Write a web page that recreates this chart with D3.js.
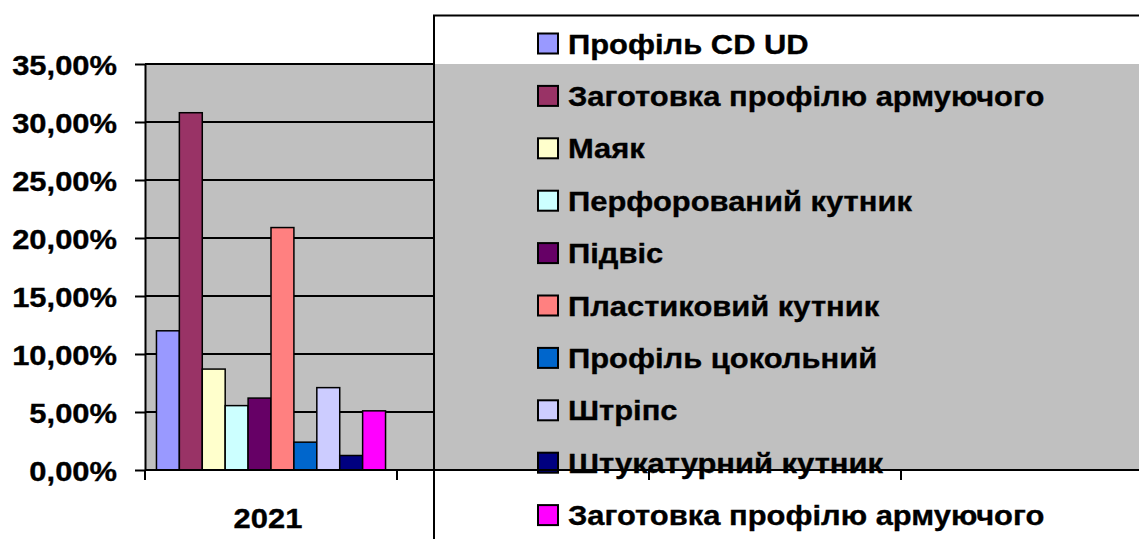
<!DOCTYPE html>
<html><head><meta charset="utf-8">
<script src="https://cdn.jsdelivr.net/npm/d3@7"></script>
<style>html,body{margin:0;padding:0;background:#fff;overflow:hidden}</style>
</head><body>
<svg id="c" width="1139" height="539"></svg>
<script>
const categories = ["2021"];
const seriesNames = [
  "Профіль CD UD",
  "Заготовка профілю армуючого",
  "Маяк",
  "Перфорований кутник",
  "Підвіс",
  "Пластиковий кутник",
  "Профіль цокольний",
  "Штріпс",
  "Штукатурний кутник",
  "Заготовка профілю армуючого"
];
const seriesValues = [0.120, 0.308, 0.087, 0.0555, 0.062, 0.209, 0.024, 0.071, 0.0125, 0.051];
const seriesColors = ["#9999FF","#993366","#FFFFCC","#CCFFFF","#660066","#FF8080","#0066CC","#CCCCFF","#000080","#FF00FF"];
const yTicks = [0, 0.05, 0.10, 0.15, 0.20, 0.25, 0.30, 0.35];

const svg = d3.select("#c");
const FONT = "'Liberation Sans', Arial, sans-serif";
const FS = 28.5, SX = 1.085;

const plot = {left:145, top:64, bottom:470, gridRight:434, grayRight:1139};
const y = d3.scaleLinear().domain([0, 0.35]).range([plot.bottom, plot.top]);
const x = d3.scaleBand().domain(categories).range([plot.left, 397]);
const xs = d3.scaleBand().domain(d3.range(seriesNames.length)).range([0, x.bandwidth()]).paddingInner(0).paddingOuter(0.5);

function styleText(sel) {
  return sel.attr("font-family", FONT).attr("font-weight", "bold").attr("font-size", FS)
    .attr("fill", "#000").attr("stroke", "#000").attr("stroke-width", 0.35);
}

// plot background
svg.append("rect").attr("x", plot.left).attr("y", plot.top)
  .attr("width", plot.grayRight - plot.left).attr("height", plot.bottom - plot.top)
  .attr("fill", "#C0C0C0");

// gridlines
svg.append("g").selectAll("line").data(yTicks).join("line")
  .attr("x1", plot.left).attr("x2", plot.gridRight)
  .attr("y1", d => Math.round(y(d))).attr("y2", d => Math.round(y(d)))
  .attr("stroke", "#000").attr("stroke-width", 2);

// bars
const cat = categories[0];
svg.append("g").selectAll("rect").data(seriesValues).join("rect")
  .attr("x", (d,i) => x(cat) + xs(i))
  .attr("width", xs.bandwidth())
  .attr("y", d => y(d))
  .attr("height", d => y(0) - y(d))
  .attr("fill", (d,i) => seriesColors[i])
  .attr("stroke", "#000").attr("stroke-width", 1.5);

// y axis
const fmt = d => d3.format(".2f")(d*100).replace(".", ",") + "%";
const yAxis = d3.axisLeft(y).tickValues(yTicks).tickSize(10).tickSizeOuter(0).tickFormat(fmt);
const gy = svg.append("g").attr("transform", `translate(${plot.left},0)`).call(yAxis);
gy.selectAll("path,line").attr("stroke", "#000").attr("stroke-width", 2);
gy.selectAll("text").remove();
styleText(gy.selectAll(".tick").append("text")
  .attr("text-anchor", "end")
  .attr("transform", `translate(-28,10) scale(${SX},1)`))
  .text(fmt);

// x axis line and ticks (band boundaries)
svg.append("line").attr("x1", plot.left).attr("x2", plot.grayRight)
  .attr("y1", plot.bottom).attr("y2", plot.bottom).attr("stroke", "#000").attr("stroke-width", 2);
svg.append("g").selectAll("line").data(d3.range(4)).join("line")
  .attr("x1", k => x(cat) + k * x.bandwidth()).attr("x2", k => x(cat) + k * x.bandwidth())
  .attr("y1", plot.bottom).attr("y2", plot.bottom + 10)
  .attr("stroke", "#000").attr("stroke-width", 2);
styleText(svg.append("g").selectAll("text").data(categories).join("text")
  .attr("text-anchor", "middle")
  .attr("transform", d => `translate(${x(d) + x.bandwidth()/2 - 3},528) scale(${SX},1)`))
  .text(d => d);

// legend border (transparent)
svg.append("path").attr("d", `M${plot.gridRight},539 V15.5 H1139`)
  .attr("fill", "none").attr("stroke", "#000").attr("stroke-width", 2);

// legend items
const rowY = i => 43.5 + i * 52.4;
const lg = svg.append("g").selectAll("g").data(seriesNames).join("g")
  .attr("transform", (d,i) => `translate(538,${rowY(i)})`);
lg.append("rect").attr("x", 0).attr("y", -10).attr("width", 20).attr("height", 20)
  .attr("fill", (d,i) => seriesColors[i]).attr("stroke", "#000").attr("stroke-width", 2);
styleText(lg.append("text").attr("transform", `translate(30,10) scale(${SX},1)`))
  .text(d => d);

// axis line drawn over legend text, as in the reference
svg.append("line").attr("x1", plot.gridRight).attr("x2", plot.grayRight)
  .attr("y1", plot.bottom).attr("y2", plot.bottom).attr("stroke", "#000").attr("stroke-width", 2);
</script>
</body></html>
